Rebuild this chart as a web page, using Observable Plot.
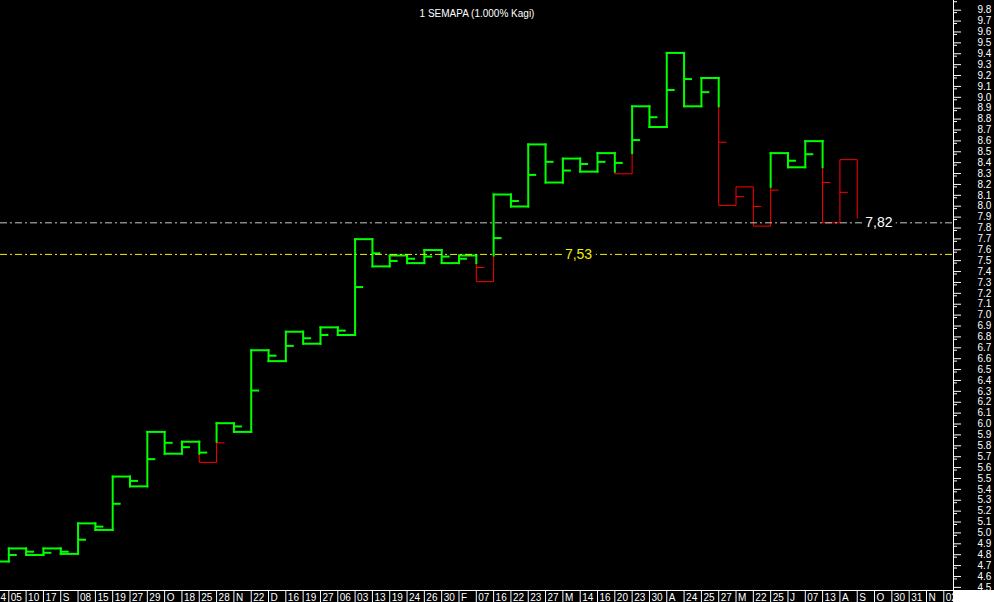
<!DOCTYPE html>
<html><head><meta charset="utf-8">
<script src="https://cdn.jsdelivr.net/npm/d3@7"></script>
<script src="https://cdn.jsdelivr.net/npm/@observablehq/plot@0.6"></script>
<style>html,body{margin:0;padding:0;background:#000;overflow:hidden}</style>
</head><body><div id="chart"></div>
<script>
// ---- data ----
const title = "1 SEMAPA (1.000% Kagi)";
// date labels for each column slot (first one is the partly visible slot left of column 0)
const dateLabels = ["4","05","10","17","S","08","15","19","27","29","O","18","25","28","N","22","D","16","19","27","06","03","13","19","24","26","30","F","07","16","22","23","27","M","14","16","20","23","30","A","24","25","27","M","22","25","J","07","13","A","S","O","30","31","N","02"];
// Kagi turning levels: start level followed by the end level of each column
const kagiLevels = [4.71,4.83,4.77,4.83,4.78,5.06,5.00,5.49,5.40,5.90,5.70,5.81,5.62,5.98,5.90,6.65,6.55,6.82,6.71,6.86,6.79,7.67,7.42,7.52,7.45,7.57,7.45,7.52,7.28,8.08,7.97,8.54,8.19,8.41,8.29,8.46,8.27,8.89,8.70,9.38,8.89,9.15,7.98,8.15,7.79,8.46,8.33,8.57,7.82,8.40,7.86];
// small right-hand marks on each column
const kagiMarks = [4.77,4.80,4.79,4.80,4.91,5.03,5.24,5.45,5.65,5.80,5.76,5.71,5.80,5.95,6.28,6.60,6.69,6.76,6.79,6.83,7.23,7.54,7.47,7.49,7.51,7.51,7.49,7.41,7.68,8.02,8.26,8.38,8.30,8.36,8.38,8.37,8.58,8.79,9.04,9.14,9.02,8.56,8.06,7.97,8.12,8.39,8.45,8.19,8.10,null];
const lastPrice = 7.82;
const refLevel = 7.53;
const yLabelTicks = d3.range(45, 99).map(d => d / 10);        // 4.5 .. 9.8
const yMinorTicks = d3.range(455, 990, 10).map(d => d / 100); // 4.55 .. 9.85

// ---- build kagi segments (yang = thick green, yin = thin red) ----
const MARK_LEN = 0.46; // length of the side marks, in column units
const verts = [], hors = [], marks = [];
let yang = true;
hors.push({x1: -1, x2: 0, y: kagiLevels[0], yang: true});
const nCols = kagiLevels.length - 1;
for (let i = 0; i < nCols; i++) {
  const a = kagiLevels[i], b = kagiLevels[i + 1];
  const t = i > 0 ? kagiLevels[i - 1] : null;
  const up = b > a;
  let split = null;
  if (t != null) {
    if (up && !yang && b > t) split = t;
    if (!up && yang && b < t) split = t;
  }
  const before = yang;
  if (split != null) {
    verts.push({x: i, y1: a, y2: split, yang: before});
    verts.push({x: i, y1: split, y2: b, yang: !before});
    yang = !before;
  } else {
    verts.push({x: i, y1: a, y2: b, yang});
  }
  const tv = kagiMarks[i];
  if (tv != null) {
    let ty = yang;
    if (split != null) ty = up ? (tv > split ? yang : before) : (tv < split ? yang : before);
    marks.push({x1: i, x2: i + MARK_LEN, y: tv, yang: ty});
  }
  if (i < nCols - 1) hors.push({x1: i, x2: i + 1, y: b, yang});
}

const GREEN = "#00ff00", RED = "#ff0000";
const W = 994, H = 602, MR = 41, MB = 12;
const xDomain = [-0.4794, 54.56];
const yDomain = [4.4437, 9.8615];
const sepIdx = d3.range(0, 55);
const labelIdx = d3.range(0, 55);

const plot = Plot.plot({
  width: W, height: H,
  marginLeft: 0, marginRight: MR, marginTop: 0, marginBottom: MB,
  style: {background: "black", color: "white", fontFamily: "'Liberation Sans', Arial, sans-serif", fontSize: "10px"},
  x: {type: "linear", domain: xDomain, label: null},
  y: {type: "linear", domain: yDomain, label: null},
  marks: [
    // red (yin) first, green (yang) on top
    Plot.link(verts.filter(d => !d.yang), {x1: "x", x2: "x", y1: "y1", y2: "y2", stroke: RED, strokeWidth: 1}),
    Plot.link(hors.filter(d => !d.yang), {x1: "x1", x2: "x2", y1: "y", y2: "y", stroke: RED, strokeWidth: 1}),
    Plot.link(marks.filter(d => !d.yang), {x1: "x1", x2: "x2", y1: "y", y2: "y", stroke: RED, strokeWidth: 1}),
    Plot.link(verts.filter(d => d.yang), {x1: "x", x2: "x", y1: "y1", y2: "y2", stroke: GREEN, strokeWidth: 2, strokeLinecap: "square"}),
    Plot.link(hors.filter(d => d.yang), {x1: "x1", x2: "x2", y1: "y", y2: "y", stroke: GREEN, strokeWidth: 2, strokeLinecap: "square"}),
    Plot.link(marks.filter(d => d.yang), {x1: "x1", x2: "x2", y1: "y", y2: "y", stroke: GREEN, strokeWidth: 2}),
    // reference lines
    Plot.ruleY([refLevel], {stroke: "#f0f000", strokeWidth: 1, strokeDasharray: "7,3,2,3"}),
    Plot.ruleY([lastPrice], {stroke: "#c8c8c8", strokeWidth: 1, strokeDasharray: "7,3,2,3"}),
    Plot.text([refLevel], {y: d => d, frameAnchor: "left", dx: 578, text: d => d.toFixed(2).replace(".", ","), fill: "#f0f000", stroke: "black", strokeWidth: 9, fontSize: 14, textAnchor: "middle"}),
    Plot.text([lastPrice], {y: d => d, x: () => nCols - 1, dx: 8, text: d => d.toFixed(2).replace(".", ","), fill: "white", stroke: "black", strokeWidth: 9, fontSize: 14, textAnchor: "start"}),
    // title
    Plot.text([title], {frameAnchor: "top", dy: 9, fill: "white", fontSize: 10}),
    // axes frame
    Plot.ruleY([yDomain[0]], {stroke: "white"}),
    Plot.ruleX([xDomain[1]], {stroke: "white"}),
    Plot.axisY(yLabelTicks, {anchor: "right", tickSize: 7, tickPadding: 17, textAnchor: "start", dy: 3, tickFormat: d3.format(".1f"), fontSize: 10, label: null}),
    Plot.axisY(yMinorTicks, {anchor: "right", tickSize: 3, tickFormat: () => "", label: null}),
    Plot.axisX(sepIdx, {anchor: "bottom", tickSize: 12, tickFormat: () => "", label: null}),
    Plot.axisX(labelIdx, {anchor: "bottom", tickSize: 0, tickPadding: 3, textAnchor: "start", dx: 2, tickFormat: i => dateLabels[i + 1], fontSize: 10, label: null}),
    Plot.text([dateLabels[0]], {frameAnchor: "bottom-left", lineAnchor: "top", dy: 3, dx: 0, textAnchor: "start", fill: "white", fontSize: 10})
  ]
});

// white block in the bottom-right corner (below the price axis)
d3.select(plot).append("rect")
  .attr("x", W - MR).attr("y", H - MB)
  .attr("width", MR).attr("height", MB)
  .attr("fill", "white");

document.getElementById("chart").appendChild(plot);
</script>
</body></html>
